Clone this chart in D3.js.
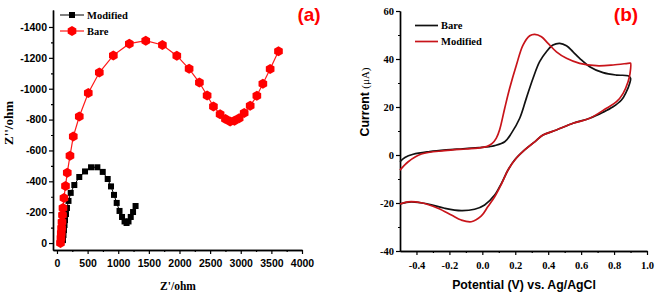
<!DOCTYPE html>
<html>
<head>
<meta charset="utf-8">
<script src="https://cdn.jsdelivr.net/npm/d3@7"></script>
<style>
  body { margin: 0; background: #fff; }
  svg { display: block; background: #fff; }
</style>
</head>
<body>
<svg id="chart" width="661" height="305"></svg>
<script>
/*global d3*/

// ---- panel (a): Nyquist plot ----
const modZre = [98,106,114,123,131,147,163,188,224,283,364,458,556,659,747,828,882,931,975,1021,1062,1103,1136,1168,1204,1242,1283];
const modZim = [-19,-52,-84,-117,-149,-188,-227,-273,-325,-376,-428,-464,-491,-491,-461,-415,-367,-312,-260,-208,-169,-140,-130,-140,-169,-201,-240];

const bareZre = [57,65,70,75,82,90,98,114,139,168,212,266,364,511,691,920,1181,1449,1721,1956,2157,2325,2451,2554,2663,2750,2827,2897,2974,3056,3154,3263,3361,3480,3616];
const bareZim = [0,-32,-65,-97,-136,-182,-227,-292,-370,-456,-565,-690,-820,-972,-1105,-1216,-1292,-1311,-1283,-1214,-1129,-1040,-956,-885,-835,-803,-787,-792,-809,-842,-889,-954,-1032,-1127,-1242];

const zreTicks = [0,500,1000,1500,2000,2500,3000,3500,4000];
const zimTicks = [0,-200,-400,-600,-800,-1000,-1200,-1400];

// ---- panel (b): cyclic voltammograms ----
const bareE = [-0.5,-0.47,-0.42,-0.32,-0.22,-0.118,-0.02,0.044,0.075,0.136,0.176,0.227,0.267,0.308,0.348,0.389,0.429,0.47,0.511,0.551,0.591,0.652,0.733,0.815,0.885,0.9,
  0.895,0.875,0.845,0.794,0.733,0.652,0.551,0.45,0.368,0.318,0.257,0.196,0.156,0.116,0.075,0.014,-0.047,-0.128,-0.229,-0.331,-0.432,-0.5];
const bareI = [-2.8,-1.0,0.3,1.4,2.1,2.6,3.1,3.5,3.9,5.5,9,15.3,23.6,32,38.9,43,45.8,46.5,45.5,43,40.3,36.8,34.3,33.3,33,32,
  29.9,26.4,22.9,20.1,17.8,15.3,13.2,10.4,8.3,5.5,2.1,-2.1,-6.25,-11.8,-16.7,-20.8,-22.6,-23.2,-22.2,-20.4,-19.5,-20.4];

const modE = [-0.5,-0.45,-0.37,-0.229,-0.1,-0.027,0.03,0.06,0.085,0.105,0.136,0.166,0.207,0.247,0.288,0.318,0.359,0.399,0.45,0.511,0.591,0.693,0.794,0.895,0.9,
  0.897,0.885,0.855,0.815,0.754,0.652,0.551,0.45,0.368,0.318,0.257,0.207,0.156,0.116,0.075,0.034,-0.006,-0.067,-0.128,-0.188,-0.27,-0.371,-0.452,-0.5];
const modI = [-6.3,-2.8,0.4,1.8,2.5,2.9,3.6,4.8,7,10.5,19.5,27.8,37.5,45.8,49.7,50.3,49.3,46.5,43,40.3,38.2,37.2,37.5,38.3,38.3,
  34,30.5,25.7,22.2,19.5,15.3,13.2,10.4,8.3,5.5,2.1,-1.25,-6.25,-12.1,-17.4,-21.5,-25.4,-27.8,-27.1,-25,-22.2,-19.9,-19.5,-20.4];

const eTicks = [-0.4,-0.2,0.0,0.2,0.4,0.6,0.8,1.0];
const iTicks = [-40,-20,0,20,40,60];

const svg = d3.select("#chart");
const SANS = "'Liberation Sans', Arial, sans-serif";
const SERIF = "'Liberation Serif', 'Times New Roman', serif";

function styleAxis(g, font, size) {
  g.attr("font-family", font).attr("font-size", size).attr("font-weight", "bold");
  g.select(".domain").attr("stroke", "#000").attr("stroke-width", 1.4);
  g.selectAll(".tick line").attr("stroke", "#000").attr("stroke-width", 1.2);
  g.selectAll(".tick text").attr("fill", "#000");
}

// ================= panel (a) =================
const xA = d3.scaleLinear().domain([-65, 4000]).range([53, 302]);
const yA = d3.scaleLinear().domain([45, -1510]).range([250, 10]);

// minor ticks
svg.append("g").attr("transform", "translate(0,250)")
  .call(d3.axisBottom(xA).tickValues(d3.range(250, 4000, 500)).tickSize(2).tickFormat("").tickSizeOuter(0))
  .call(g => styleAxis(g, SANS, 10.5));
svg.append("g").attr("transform", "translate(53,0)")
  .call(d3.axisLeft(yA).tickValues(d3.range(-100, -1500, -200)).tickSize(2).tickFormat("").tickSizeOuter(0))
  .call(g => styleAxis(g, SANS, 10.5));

svg.append("g").attr("transform", "translate(0,250)")
  .call(d3.axisBottom(xA).tickValues(zreTicks).tickSize(4).tickPadding(6).tickSizeOuter(0).tickFormat(d => String(d)))
  .call(g => styleAxis(g, SANS, 10.5));
svg.append("g").attr("transform", "translate(53,0)")
  .call(d3.axisLeft(yA).tickValues(zimTicks).tickSize(4).tickPadding(2).tickSizeOuter(0).tickFormat(d => String(d)))
  .call(g => styleAxis(g, SANS, 10.5));

const modPts = modZre.map((d, i) => [d, modZim[i]]);
const barePts = bareZre.map((d, i) => [d, bareZim[i]]);
const lineA = d3.line().x(d => xA(d[0])).y(d => yA(d[1]));

function hexPath(r) {
  const pts = d3.range(6).map(k => {
    const a = Math.PI / 6 + k * Math.PI / 3;
    return [r * Math.cos(a), r * Math.sin(a)];
  });
  return "M" + pts.map(p => p[0].toFixed(2) + "," + p[1].toFixed(2)).join("L") + "Z";
}

svg.append("path").datum(modPts)
  .attr("d", lineA).attr("fill", "none").attr("stroke", "#000").attr("stroke-width", 1);
svg.append("g").selectAll("rect").data(modPts).enter().append("rect")
  .attr("x", d => xA(d[0]) - 3).attr("y", d => yA(d[1]) - 3)
  .attr("width", 6).attr("height", 6).attr("fill", "#000");

svg.append("path").datum(barePts)
  .attr("d", lineA).attr("fill", "none").attr("stroke", "#ff1a1a").attr("stroke-width", 1.2);
svg.append("g").selectAll("path").data(barePts).enter().append("path")
  .attr("d", hexPath(5))
  .attr("transform", d => `translate(${xA(d[0])},${yA(d[1])})`)
  .attr("fill", "#ff0000");

// legend (a)
const legA = svg.append("g");
legA.append("line").attr("x1", 60).attr("x2", 84).attr("y1", 15).attr("y2", 15).attr("stroke", "#000").attr("stroke-width", 1);
legA.append("rect").attr("x", 69).attr("y", 12).attr("width", 6).attr("height", 6).attr("fill", "#000");
legA.append("text").attr("x", 87).attr("y", 18.5).attr("font-family", SERIF).attr("font-weight", "bold").attr("font-size", 10.5).text("Modified");
legA.append("line").attr("x1", 60).attr("x2", 84).attr("y1", 31).attr("y2", 31).attr("stroke", "#ff1a1a").attr("stroke-width", 1.2);
legA.append("path").attr("d", hexPath(5)).attr("transform", "translate(72,31)").attr("fill", "#ff0000");
legA.append("text").attr("x", 87).attr("y", 34.5).attr("font-family", SERIF).attr("font-weight", "bold").attr("font-size", 10.5).text("Bare");

svg.append("text").attr("x", 178).attr("y", 290).attr("text-anchor", "middle")
  .attr("font-family", SERIF).attr("font-weight", "bold").attr("font-size", 11.5).text("Z'/ohm");
svg.append("text").attr("transform", "translate(13,123) rotate(-90)").attr("text-anchor", "middle")
  .attr("font-family", SERIF).attr("font-weight", "bold").attr("font-size", 13).text("Z''/ohm");

svg.append("text").attr("x", 309).attr("y", 21).attr("text-anchor", "middle")
  .attr("font-family", SANS).attr("font-weight", "bold").attr("font-size", 19).attr("fill", "#ff0000").text("(a)");

// ================= panel (b) =================
const xB = d3.scaleLinear().domain([-0.5, 1.0]).range([400, 647]);
const yB = d3.scaleLinear().domain([-40, 60]).range([251, 11]);

svg.append("g").attr("transform", "translate(0,251)")
  .call(d3.axisBottom(xB).tickValues(d3.range(-0.3, 1.0, 0.2)).tickSize(2).tickFormat("").tickSizeOuter(0))
  .call(g => styleAxis(g, SERIF, 10.5));
svg.append("g").attr("transform", "translate(400,0)")
  .call(d3.axisLeft(yB).tickValues([-30,-10,10,30,50]).tickSize(2).tickFormat("").tickSizeOuter(0))
  .call(g => styleAxis(g, SERIF, 10.5));

svg.append("g").attr("transform", "translate(0,251)")
  .call(d3.axisBottom(xB).tickValues(eTicks).tickSize(4).tickPadding(7).tickSizeOuter(0).tickFormat(d => d.toFixed(1)))
  .call(g => styleAxis(g, SERIF, 10.5));
svg.append("g").attr("transform", "translate(400,0)")
  .call(d3.axisLeft(yB).tickValues(iTicks).tickSize(4).tickPadding(2).tickSizeOuter(0).tickFormat(d => String(d)))
  .call(g => styleAxis(g, SERIF, 10.5));

const lineB = d3.line().x(d => xB(d[0])).y(d => yB(d[1])).curve(d3.curveCatmullRom.alpha(0.5));
const bareCV = bareE.map((d, i) => [d, bareI[i]]);
const modCV = modE.map((d, i) => [d, modI[i]]);

svg.append("path").datum(bareCV).attr("d", lineB)
  .attr("fill", "none").attr("stroke", "#111").attr("stroke-width", 1.7);
svg.append("path").datum(modCV).attr("d", lineB)
  .attr("fill", "none").attr("stroke", "#c8141a").attr("stroke-width", 1.7);

// legend (b)
const legB = svg.append("g");
legB.append("line").attr("x1", 415).attr("x2", 438).attr("y1", 25.5).attr("y2", 25.5).attr("stroke", "#111").attr("stroke-width", 1.7);
legB.append("text").attr("x", 441).attr("y", 29).attr("font-family", SERIF).attr("font-weight", "bold").attr("font-size", 10.5).text("Bare");
legB.append("line").attr("x1", 415).attr("x2", 438).attr("y1", 41.5).attr("y2", 41.5).attr("stroke", "#c8141a").attr("stroke-width", 1.7);
legB.append("text").attr("x", 441).attr("y", 45).attr("font-family", SERIF).attr("font-weight", "bold").attr("font-size", 10.5).text("Modified");

svg.append("text").attr("x", 524).attr("y", 289).attr("text-anchor", "middle")
  .attr("font-family", SANS).attr("font-weight", "bold").attr("font-size", 12.3).text("Potential (V) vs. Ag/AgCl");

const yLab = svg.append("text").attr("transform", "translate(369,102) rotate(-90)").attr("text-anchor", "middle");
yLab.append("tspan").attr("font-family", SANS).attr("font-weight", "bold").attr("font-size", 12.3).text("Current ");
yLab.append("tspan").attr("font-family", SERIF).attr("font-size", 11).text("(\u03bcA)");

svg.append("text").attr("x", 626).attr("y", 21).attr("text-anchor", "middle")
  .attr("font-family", SANS).attr("font-weight", "bold").attr("font-size", 19).attr("fill", "#ff0000").text("(b)");
</script>
</body>
</html>
